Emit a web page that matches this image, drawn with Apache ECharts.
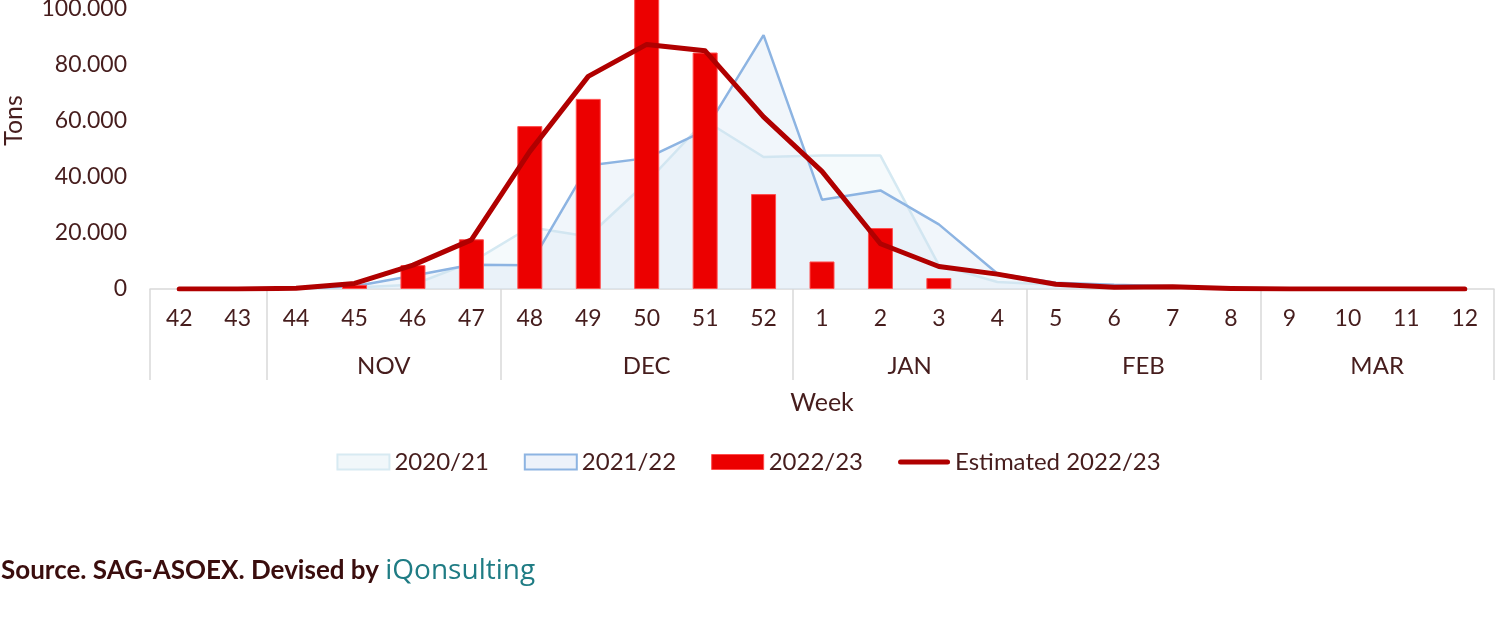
<!DOCTYPE html>
<html>
<head>
<meta charset="utf-8">
<script src="https://cdn.jsdelivr.net/npm/echarts@6/dist/echarts.min.js"></script>
<style>
html,body{margin:0;padding:0;background:#fff;}
#chart{width:1497px;height:635px;}
</style>
</head>
<body>
<div id="chart"></div>
<script>
// ---- data ----
var weeks = ['42','43','44','45','46','47','48','49','50','51','52','1','2','3','4','5','6','7','8','9','10','11','12'];
var monthNames = ['', 'NOV', 'DEC', 'JAN', 'FEB', 'MAR'];
var monthWeeks = [2, 4, 5, 4, 4, 4];
var seriesNames = ['2020/21', '2021/22', '2022/23', 'Estimated 2022/23'];
var s2020 = [0,0,0,500,1500,9500,22000,18700,38000,60000,47000,47500,47500,8500,2500,1500,800,500,200,0,0,0,0];
var s2021 = [0,0,200,1000,4700,8600,8500,44000,46600,56500,90400,31800,35100,23000,5500,2200,1500,1000,300,0,0,0,0];
var s2022 = [null,null,null,1500,8500,17700,58000,67700,106000,84200,33800,9800,21700,3900,null,null,null,null,null,null,null,null,null];
var sEst  = [0,0,300,2000,8500,17500,49000,75700,87100,84800,61300,41900,16100,8000,5300,1700,600,800,200,0,0,0,0];
var yTicks = [0, 20000, 40000, 60000, 80000, 100000, 120000];

// ---- month axis built from the groups (half-week slots) ----
var boundaries = [0];
monthWeeks.forEach(function (n, i) { boundaries.push(boundaries[i] + n * 2); });
var halfSlots = [];
for (var i = 0; i <= boundaries[boundaries.length - 1]; i++) halfSlots.push('h' + i);
var monthAt = {};
for (var g = 0; g < monthNames.length; g++) {
  monthAt[(boundaries[g] + boundaries[g + 1]) / 2] = monthNames[g];
}
var isBoundary = {};
boundaries.forEach(function (b) { isBoundary[b] = true; });

var TXT = '#461d1d';
var FONT = 'Lato';

var chart = echarts.init(document.getElementById('chart'));
chart.setOption({
  animation: false,
  backgroundColor: '#ffffff',
  textStyle: { fontFamily: FONT, color: TXT },
  grid: { left: 150, right: 3, top: -48, bottom: 346, containLabel: false, outerBoundsMode: 'none' },
  title: {
    left: 1, top: 557, padding: 0,
    text: '{a|Source. SAG-ASOEX. Devised by }{b|iQonsulting}',
    textStyle: {
      rich: {
        a: { fontFamily: FONT, fontWeight: 'bold', fontSize: 26, color: '#3a0d0d' },
        b: { fontFamily: 'Open Sans', fontWeight: 'normal', fontSize: 28, color: '#1f7c84' }
      }
    }
  },
  legend: {
    top: 445, left: 'center',
    itemWidth: 52, itemHeight: 15, itemGap: 35,
    textStyle: { fontFamily: FONT, fontSize: 24, color: TXT },
    data: [
      { name: seriesNames[0], icon: 'rect', itemStyle: { color: '#f1f7fa', borderColor: '#d7eaf2', borderWidth: 2 } },
      { name: seriesNames[1], icon: 'rect', itemStyle: { color: '#edf2fa', borderColor: '#8db4e2', borderWidth: 2 } },
      { name: seriesNames[2], icon: 'rect', itemStyle: { color: '#ec0000', borderColor: '#ff4d4d', borderWidth: 1 } },
      { name: seriesNames[3], icon: 'path://M2.5,0 H49.5 A2.5,2.5 0 0 1 49.5,5 H2.5 A2.5,2.5 0 0 1 2.5,0 Z', itemStyle: { color: '#b00000' } }
    ]
  },
  xAxis: [
    {
      type: 'category', data: weeks, boundaryGap: true, position: 'bottom',
      axisLine: { show: true, lineStyle: { color: '#d9d9d9', width: 1.5 } },
      axisTick: { show: false },
      axisLabel: { interval: 0, margin: 18, fontSize: 23, color: TXT, fontFamily: FONT },
      name: 'Week', nameLocation: 'middle', nameGap: 101,
      nameTextStyle: { fontSize: 25, color: TXT, fontFamily: FONT }
    },
    {
      type: 'category', data: halfSlots, boundaryGap: false, position: 'bottom',
      axisLine: { show: false },
      axisTick: {
        show: true, length: 91,
        interval: function (idx) { return !!isBoundary[idx]; },
        lineStyle: { color: '#d9d9d9', width: 1.5 }
      },
      axisLabel: {
        margin: 65, fontSize: 24, color: TXT, fontFamily: FONT,
        interval: function (idx) { return !!monthAt[idx]; },
        formatter: function (v, idx) { return monthAt[idx] || ''; }
      },
      splitLine: { show: false }
    }
  ],
  yAxis: {
    type: 'value', min: yTicks[0], max: yTicks[yTicks.length - 1], interval: yTicks[1] - yTicks[0],
    axisLine: { show: false }, axisTick: { show: false }, splitLine: { show: false },
    axisLabel: {
      margin: 23, fontSize: 23, color: TXT, fontFamily: FONT,
      formatter: function (v) { return String(v).replace(/\B(?=(\d{3})+(?!\d))/g, '.'); }
    },
    name: 'Tons', nameLocation: 'middle', nameRotate: 90, nameGap: 124,
    nameTextStyle: { fontSize: 25, color: TXT, fontFamily: FONT }
  },
  series: [
    {
      name: seriesNames[0], type: 'line', data: s2020, showSymbol: false, z: 1,
      lineStyle: { color: '#d5e9f2', width: 2.5 },
      itemStyle: { color: '#d5e9f2' },
      areaStyle: { color: 'rgba(228,240,247,0.5)' }
    },
    {
      name: seriesNames[1], type: 'line', data: s2021, showSymbol: false, z: 2,
      lineStyle: { color: '#8db4e2', width: 2.5 },
      itemStyle: { color: '#8db4e2' },
      areaStyle: { color: 'rgba(205,221,240,0.4)' }
    },
    {
      name: seriesNames[2], type: 'bar', data: s2022, barWidth: 25, z: 3,
      itemStyle: { color: '#ec0000', borderColor: '#ff4d4d', borderWidth: 1 }
    },
    {
      name: seriesNames[3], type: 'line', data: sEst, showSymbol: false, z: 4,
      lineStyle: { color: '#b00000', width: 5, cap: 'round', join: 'round' },
      itemStyle: { color: '#b00000' }
    }
  ]
});
</script>
</body>
</html>
